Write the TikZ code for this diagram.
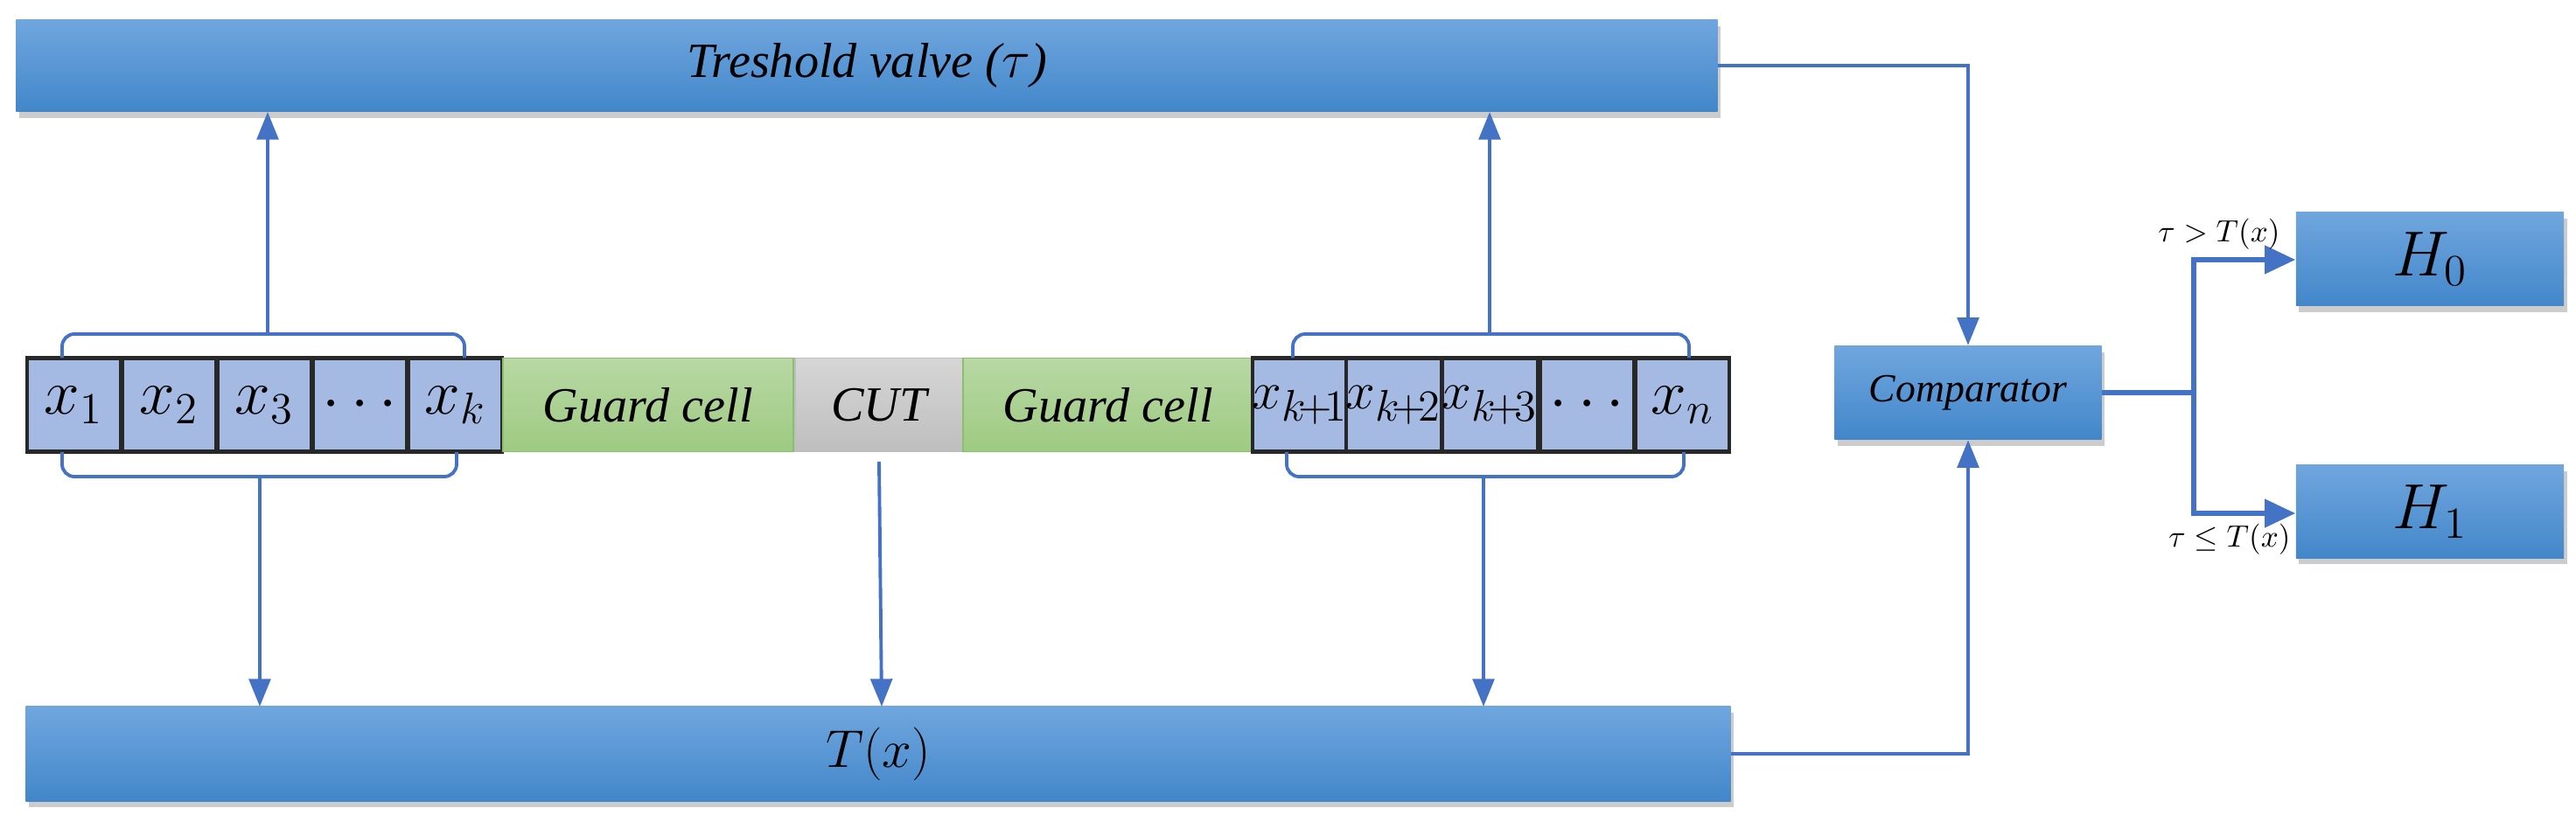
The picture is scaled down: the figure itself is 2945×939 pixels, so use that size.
\documentclass[tikz,border=0pt]{standalone}
\usepackage{fontspec}
\setmainfont{Liberation Serif}
\usetikzlibrary{shadows,arrows.meta}
\definecolor{ln}{HTML}{4472C4}
\definecolor{btop}{RGB}{112,166,222}
\definecolor{bbot}{RGB}{66,135,202}
\definecolor{cellb}{RGB}{40,40,40}
\definecolor{cellf}{RGB}{164,186,226}
\definecolor{gd}{RGB}{140,190,110}
\definecolor{gt}{RGB}{184,216,164}
\definecolor{gb}{RGB}{158,202,130}
\definecolor{cd}{RGB}{190,190,190}
\definecolor{ct}{RGB}{214,214,214}
\begin{document}
\begin{tikzpicture}[x=0.01cm,y=-0.01cm,
 bbox/.style={draw=none,top color=btop,bottom color=bbot,drop shadow={shadow xshift=1pt,shadow yshift=-2pt,opacity=0.4},inner sep=0pt,font=\itshape},
 cell/.style={draw=cellb,line width=1.2pt,fill=cellf,minimum width=1.07cm,minimum height=1.07cm,inner sep=0pt,font=\fontsize{22}{24}\selectfont},
 cellr/.style={cell,font=\fontsize{19}{21}\selectfont},
 guard/.style={draw=gd,top color=gt,bottom color=gb,minimum width=3.32cm,minimum height=1.07cm,inner sep=0pt,font=\fontsize{16}{18}\selectfont\itshape},
 conn/.style={draw=ln,line width=1.1pt},
 arr/.style={conn,-{Triangle[length=9pt,width=7pt]}},
 brc/.style={conn,rounded corners=4pt}]
\useasboundingbox (0,0) rectangle (2945,939);
% bars
\node[bbox,minimum width=19.44cm,minimum height=1.05cm] (thr) at (991,75) {\fontsize{16}{18}\selectfont Treshold valve ($\tau$)};
\node[bbox,minimum width=19.48cm,minimum height=1.08cm] (tx) at (1004,862) {\fontsize{16}{18}\selectfont\upshape $T(x)$};
\node[bbox,minimum width=3.05cm,minimum height=1.07cm] (cmp) at (2250,449) {\fontsize{13}{15}\selectfont Comparator};
\node[bbox,minimum width=3.06cm,minimum height=1.07cm] (h0) at (2778,296) {\fontsize{22}{24}\selectfont $H_0$};
\node[bbox,minimum width=3.06cm,minimum height=1.06cm] (h1) at (2778,585) {\fontsize{22}{24}\selectfont $H_1$};
% cells
\node[cell] (c1) at (84.5,463) {$x_1$};
\node[cell] (c2) at (193.5,463) {$x_2$};
\node[cell] (c3) at (302.5,463) {$x_3$};
\node[cell] (c4) at (411.5,463) {$\cdots$};
\node[cell] (c5) at (520.5,463) {$x_k$};
\node[guard] (g1) at (741,463) {Guard cell};
\node[draw=cd,top color=ct,bottom color=cd,minimum width=1.92cm,minimum height=1.07cm,inner sep=0pt,font=\fontsize{16}{18}\selectfont\itshape] (cut) at (1005,463) {CUT};
\node[guard] (g2) at (1267,463) {Guard cell};
\node[cellr] (d1) at (1486.5,463) {$x_{k\!+\!1}$};
\node[cellr] (d2) at (1593.5,463) {$x_{k\!+\!2}$};
\node[cellr] (d3) at (1703.5,463) {$x_{k\!+\!3}$};
\node[cell] (d4) at (1814.5,463) {$\cdots$};
\node[cell] (d5) at (1923.5,463) {$x_n$};
% braces top
\coordinate (bl1) at (306,382);
\coordinate (br1) at (1703,382);
\draw[brc] (71,409) -- (71,382) -- (531,382) -- (531,409);
\draw[arr] (bl1) -- (306,128) coordinate (t1);
\draw[brc] (1478,409) -- (1478,382) -- (1931,382) -- (1931,409);
\draw[arr] (br1) -- (1703,128) coordinate (t2);
% braces bottom
\draw[brc] (71,517) -- (71,545) -- (522,545) -- (522,517);
\draw[arr] (297,545) coordinate (bl2) -- (297,808) coordinate (b1);
\draw[brc] (1471,517) -- (1471,545) -- (1925,545) -- (1925,517);
\draw[arr] (1696,545) coordinate (br2) -- (1696,808) coordinate (b2);
\draw[arr] ([yshift=-3pt]cut.south) -- (1008,808);
% comparator links
\draw[arr] (thr.east) -| (cmp.north);
\draw[arr] (tx.east) -| (cmp.south);
\coordinate (sp) at (2508,449);
\draw[conn,line width=1.6pt] (cmp.east) -- (sp);
\draw[conn,line width=1.6pt,-{Triangle[length=10pt,width=9pt]}] (sp) |- (h0.west|-0,297);
\draw[conn,line width=1.6pt,-{Triangle[length=10pt,width=9pt]}] (sp) |- (h1.west|-0,587);
\node[font=\fontsize{10}{12}\selectfont] (l0) at (2537,268) {$\tau > T(x)$};
\node[font=\fontsize{10}{12}\selectfont] (l1) at (2549,617) {$\tau \le T(x)$};
\end{tikzpicture}
\end{document}
